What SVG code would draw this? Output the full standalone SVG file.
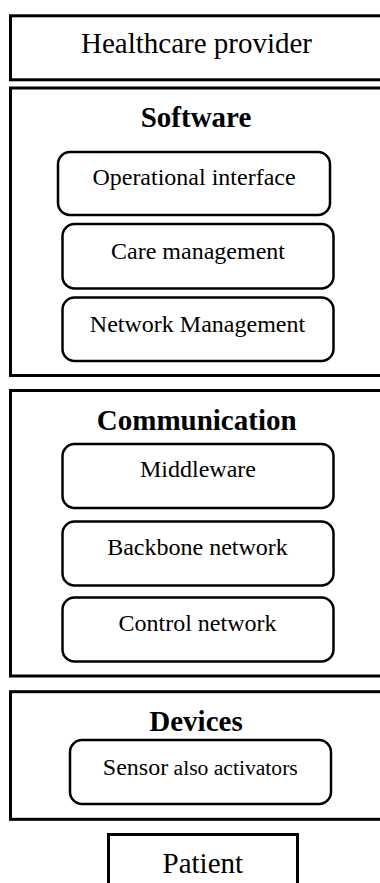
<svg xmlns="http://www.w3.org/2000/svg" width="380" height="883" viewBox="0 0 380 883">
<style>
.outer{fill:#fff;stroke:#000;stroke-width:3}
.inner{fill:#fff;stroke:#000;stroke-width:2.5}
text{font-family:"Liberation Serif","Times New Roman",serif;fill:#000;text-anchor:middle}
.big{font-size:29px}
.hd{font-size:29px;font-weight:bold}
.lbl{font-size:24px}
</style>
<rect width="380" height="883" fill="#fff"/>
<g id="healthcare-provider">
<rect class="outer" x="10.5" y="15.8" width="373" height="64"/>
<text class="big" x="196.5" y="53">Healthcare provider</text>
</g>
<g id="software">
<rect class="outer" x="10.5" y="88" width="373" height="287.5"/>
<text class="hd" x="196" y="127">Software</text>
</g>
<g id="operational-interface">
<rect class="inner" x="58" y="152" width="272" height="63" rx="12"/>
<text class="lbl" x="194" y="185">Operational interface</text>
</g>
<g id="care-management">
<rect class="inner" x="62.5" y="224" width="271" height="64.5" rx="12"/>
<text class="lbl" x="198" y="259">Care management</text>
</g>
<g id="network-management">
<rect class="inner" x="62.5" y="297.5" width="271" height="63.5" rx="12"/>
<text class="lbl" x="197.5" y="332">Network Management</text>
</g>
<g id="communication">
<rect class="outer" x="10.5" y="390.5" width="373" height="285.5"/>
<text class="hd" x="196.7" y="429.5">Communication</text>
</g>
<g id="middleware">
<rect class="inner" x="62.5" y="444" width="271" height="64" rx="12"/>
<text class="lbl" x="198" y="477">Middleware</text>
</g>
<g id="backbone-network">
<rect class="inner" x="62.5" y="521.5" width="271" height="64" rx="12"/>
<text class="lbl" x="197.5" y="555">Backbone network</text>
</g>
<g id="control-network">
<rect class="inner" x="62.5" y="597.5" width="271" height="64" rx="12"/>
<text class="lbl" x="197.5" y="631">Control network</text>
</g>
<g id="devices">
<rect class="outer" x="10.5" y="691.7" width="373" height="127.6"/>
<text class="hd" x="196" y="731">Devices</text>
</g>
<g id="sensor">
<rect class="inner" x="70" y="740" width="261" height="64" rx="12"/>
<text x="200.3" y="774.5"><tspan font-size="24">Sensor</tspan><tspan font-size="21.6"> also activators</tspan></text>
</g>
<g id="patient">
<rect class="outer" x="108.5" y="834.5" width="189" height="60"/>
<text class="big" x="202.8" y="873">Patient</text>
</g>
<g id="connectors"></g>
</svg>
